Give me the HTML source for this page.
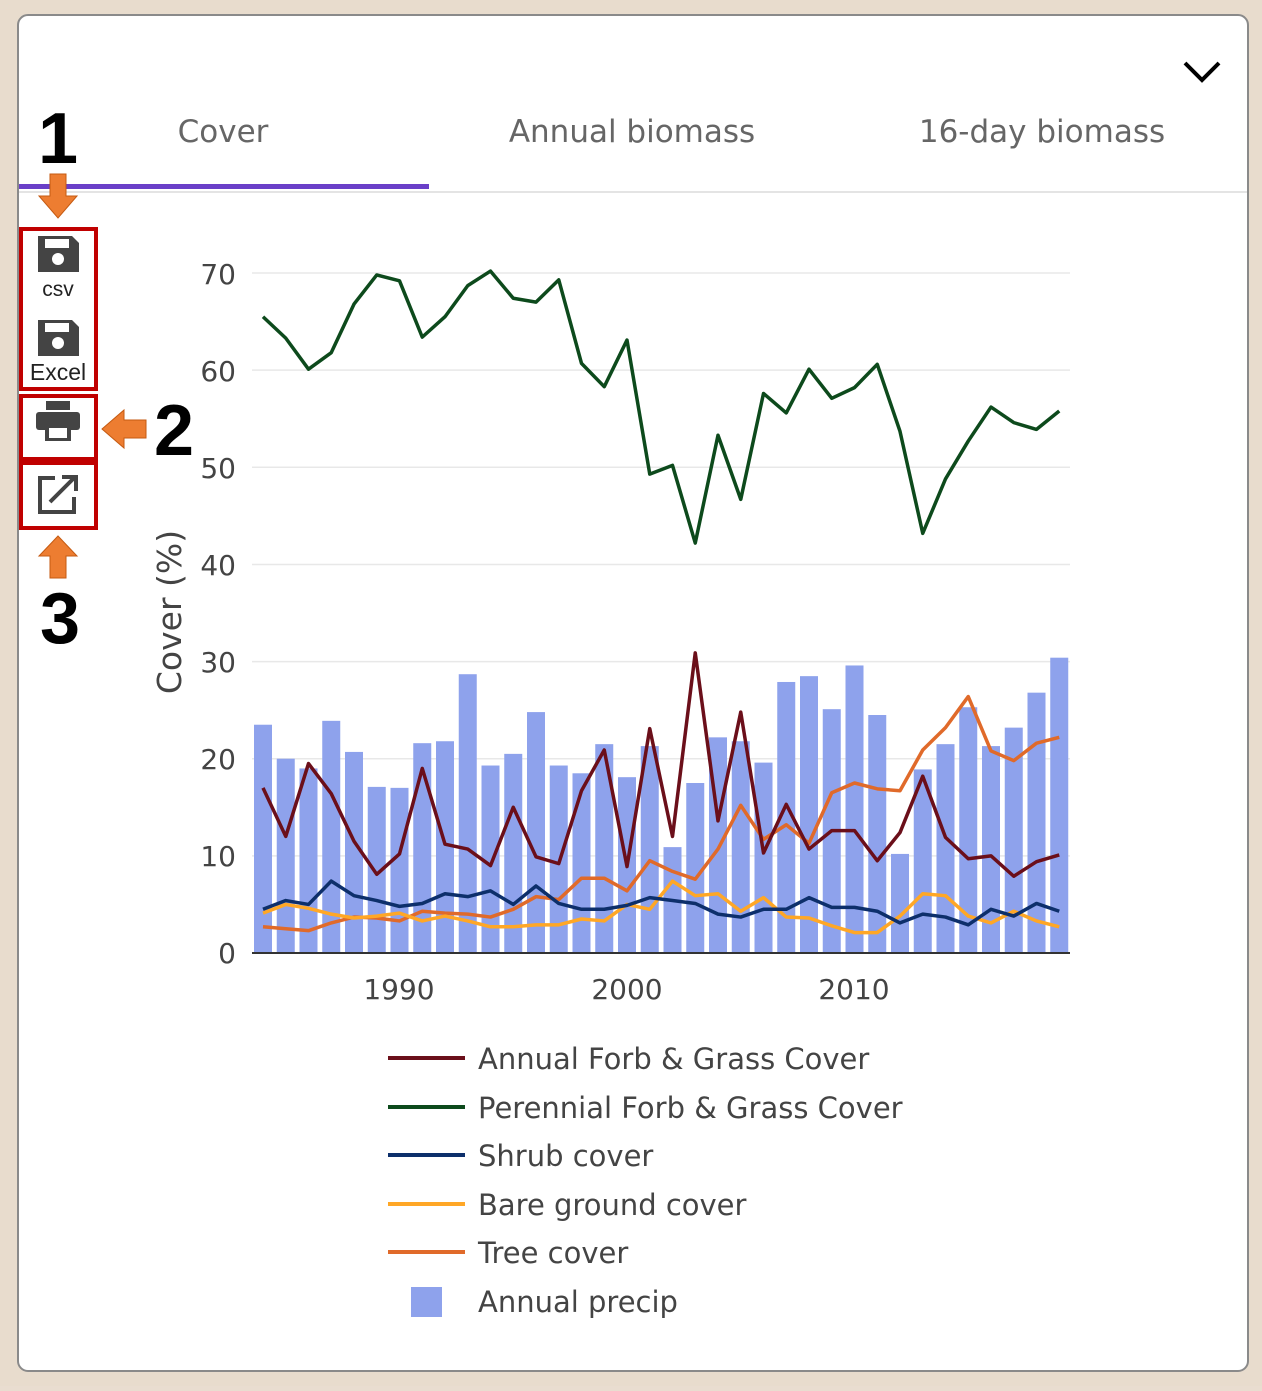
<!DOCTYPE html><html><head><style>body{margin:0;width:1262px;height:1386px;overflow:hidden;background:#e9ddd0}</style></head><body>
<svg id="s" width="1262" height="1386" xmlns="http://www.w3.org/2000/svg" font-family="DejaVu Sans, sans-serif">
<rect x="0" y="0" width="1262" height="1386" fill="#e8dccd"/>
<rect x="18" y="15" width="1230" height="1356" rx="10" fill="#fff" stroke="#8a8a8a" stroke-width="2"/>
<path d="M1185 63 L1202 80 L1219 63" fill="none" stroke="#000" stroke-width="4"/>
<text x="223" y="142" font-size="31" fill="#666" text-anchor="middle">Cover</text>
<text x="632" y="142" font-size="31" fill="#666" text-anchor="middle">Annual biomass</text>
<text x="1042" y="142" font-size="31" fill="#666" text-anchor="middle">16-day biomass</text>
<line x1="19" y1="192" x2="1247" y2="192" stroke="#e4e4e4" stroke-width="2"/>
<rect x="19" y="184" width="410" height="5" fill="#6a3fc8"/>
<g font-family="Liberation Sans, sans-serif" font-size="72" font-weight="bold" text-anchor="middle">
<text x="58" y="163">1</text>
<text x="174" y="455">2</text>
<text x="60" y="643">3</text>
</g>
<path d="M50 174 H66 V196 H77 L58 218 L39 196 H50Z" fill="#ed7d31" stroke="#c55a11" stroke-width="1"/>
<path d="M146 420 V438 H124 V448 L102 429 L124 410 V420Z" fill="#ed7d31" stroke="#c55a11" stroke-width="1"/>
<path d="M50 578 H66 V556 H77 L58 536 L39 556 H50Z" fill="#ed7d31" stroke="#c55a11" stroke-width="1"/>
<rect x="21" y="229" width="75" height="160" fill="none" stroke="#c00000" stroke-width="4"/>
<rect x="21" y="396" width="75" height="63" fill="none" stroke="#c00000" stroke-width="4"/>
<rect x="21" y="463" width="75" height="65" fill="none" stroke="#c00000" stroke-width="4"/>
<g fill="#444">
<path d="M38 236 H72 L79 243 V272 H38Z"/><rect x="45" y="239" width="24" height="9" fill="#fff"/><circle cx="58" cy="259" r="6" fill="#fff"/>
<path d="M38 320 H72 L79 327 V356 H38Z"/><rect x="45" y="323" width="24" height="9" fill="#fff"/><circle cx="58" cy="343" r="6" fill="#fff"/>
<rect x="46" y="401" width="24" height="9"/><rect x="36" y="412" width="44" height="18" rx="3"/><rect x="45" y="424" width="26" height="17"/><rect x="49" y="428" width="18" height="10" fill="#fff"/>
</g>
<g font-family="Liberation Sans, sans-serif" fill="#222" text-anchor="middle">
<text x="58" y="296" font-size="21">csv</text>
<text x="58" y="380" font-size="23">Excel</text>
</g>
<path d="M55 478 H40 V512 H74 V497" fill="none" stroke="#444" stroke-width="4"/>
<path d="M50 502 L74 478 M62 477 H76 V491" fill="none" stroke="#444" stroke-width="4"/>
<g id="grid" stroke="#e8e8e8" stroke-width="1.5"></g>
<g id="bars" fill="#8ea2ec"></g>
<g id="lines" fill="none" stroke-width="3.5" stroke-linejoin="round"></g>
<line x1="252" y1="953" x2="1070" y2="953" stroke="#333" stroke-width="2"/>
<g font-size="28" fill="#444" text-anchor="end">
<text x="236" y="963">0</text><text x="236" y="866">10</text><text x="236" y="769">20</text><text x="236" y="672">30</text><text x="236" y="575">40</text><text x="236" y="478">50</text><text x="236" y="381">60</text><text x="236" y="284">70</text>
</g>
<g font-size="28" fill="#444" text-anchor="middle">
<text x="399" y="999">1990</text><text x="627" y="999">2000</text><text x="854" y="999">2010</text>
</g>
<text transform="translate(181,612) rotate(-90)" font-size="33" fill="#444" text-anchor="middle">Cover (%)</text>
<g stroke-width="4">
<line x1="388" y1="1058" x2="465" y2="1058" stroke="#6b0f1a"/>
<line x1="388" y1="1107" x2="465" y2="1107" stroke="#0d4a1c"/>
<line x1="388" y1="1155" x2="465" y2="1155" stroke="#0d2f6b"/>
<line x1="388" y1="1204" x2="465" y2="1204" stroke="#ffa726"/>
<line x1="388" y1="1252" x2="465" y2="1252" stroke="#e06a2a"/>
</g>
<rect x="411" y="1287" width="31" height="30" fill="#8ea2ec"/>
<g font-size="29" fill="#444">
<text x="478" y="1069">Annual Forb &amp; Grass Cover</text>
<text x="478" y="1118">Perennial Forb &amp; Grass Cover</text>
<text x="478" y="1166">Shrub cover</text>
<text x="478" y="1215">Bare ground cover</text>
<text x="478" y="1263">Tree cover</text>
<text x="478" y="1312">Annual precip</text>
</g>
</svg>
<script>
var X=function(i){return 263+i*22.75},Y=function(v){return 953-v*9.714};
var ns="http://www.w3.org/2000/svg";
function el(p,t,a){var e=document.createElementNS(ns,t);for(var k in a)e.setAttribute(k,a[k]);document.getElementById(p).appendChild(e);}
for(var g=1;g<=7;g++)el("grid","line",{x1:252,x2:1070,y1:Y(g*10),y2:Y(g*10)});
var pr=[23.5,20,19,23.9,20.7,17.1,17,21.6,21.8,28.7,19.3,20.5,24.8,19.3,18.5,21.5,18.1,21.3,10.9,17.5,22.2,21.8,19.6,27.9,28.5,25.1,29.6,24.5,10.2,18.9,21.5,25.3,21.3,23.2,26.8,30.4];
pr.forEach(function(v,i){el("bars","rect",{x:X(i)-9,y:Y(v),width:18,height:v*9.714});});
var S={
"#e06a2a":[2.7,2.5,2.3,3.1,3.7,3.6,3.3,4.3,4.1,4,3.7,4.5,5.8,5.5,7.7,7.7,6.4,9.5,8.4,7.6,10.7,15.2,11.7,13.2,11.3,16.5,17.5,16.9,16.7,20.9,23.2,26.4,20.8,19.8,21.6,22.2],
"#ffa726":[4.1,5,4.6,4,3.6,3.8,4.1,3.3,3.8,3.3,2.7,2.7,2.9,2.9,3.5,3.3,5,4.5,7.4,5.9,6.1,4.3,5.7,3.7,3.6,2.8,2.1,2.1,3.8,6.1,5.9,3.8,3.1,4.3,3.3,2.7],
"#0d2f6b":[4.5,5.4,5,7.4,5.9,5.4,4.8,5.1,6.1,5.8,6.4,5,6.9,5.1,4.5,4.5,4.9,5.7,5.4,5.1,4,3.7,4.5,4.5,5.7,4.7,4.7,4.3,3.1,4,3.7,2.9,4.5,3.8,5.1,4.3],
"#6b0f1a":[17,12,19.5,16.4,11.5,8.1,10.2,19,11.2,10.7,9,15,9.9,9.2,16.7,20.9,8.9,23.1,12,30.9,13.6,24.8,10.3,15.3,10.7,12.6,12.6,9.5,12.4,18.2,11.9,9.7,10,7.9,9.4,10.1],
"#0d4a1c":[65.5,63.3,60.1,61.8,66.8,69.8,69.2,63.4,65.5,68.7,70.2,67.4,67,69.3,60.7,58.3,63.1,49.3,50.2,42.2,53.3,46.7,57.6,55.6,60.1,57.1,58.2,60.6,53.7,43.2,48.8,52.7,56.2,54.6,53.9,55.8]};
for(var c in S){el("lines","polyline",{stroke:c,points:S[c].map(function(v,i){return X(i)+","+Y(v)}).join(" ")});}
</script>
</body></html>
